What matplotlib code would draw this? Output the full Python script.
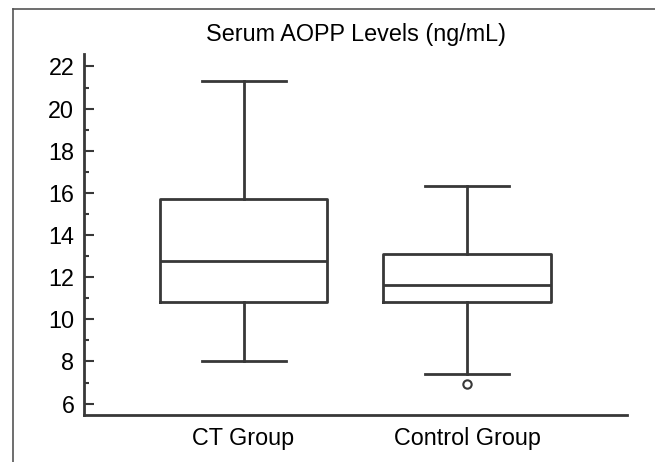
import matplotlib
matplotlib.use("Agg")
import matplotlib.pyplot as plt
from matplotlib.lines import Line2D
from matplotlib.ticker import MultipleLocator

# box statistics
groups = ["CT Group", "Control Group"]
whisker_low = [8.04, 7.41]
q1 = [10.82, 10.80]
median = [12.78, 11.62]
q3 = [15.70, 13.11]
whisker_high = [21.32, 16.34]
outliers = [[], [6.92]]

plt.rcParams["font.family"] = ["Liberation Sans", "DejaVu Sans"]
line_col = "#383838"

fig = plt.figure(figsize=(6.55, 4.62), dpi=100)
ax = fig.add_axes([84 / 655, 1 - 415 / 462, (627 - 84) / 655, (415 - 54) / 462])

stats = []
for i, g in enumerate(groups):
    stats.append({
        "label": g,
        "whislo": whisker_low[i],
        "q1": q1[i],
        "med": median[i],
        "q3": q3[i],
        "whishi": whisker_high[i],
        "fliers": outliers[i],
    })

lw = 2.0
ax.bxp(stats, positions=[1, 2], widths=0.75, capwidths=0.376,
       boxprops=dict(color=line_col, linewidth=lw),
       medianprops=dict(color=line_col, linewidth=lw),
       whiskerprops=dict(color=line_col, linewidth=lw),
       capprops=dict(color=line_col, linewidth=lw),
       flierprops=dict(marker="o", markersize=6, markerfacecolor="white",
                       markeredgecolor=line_col, markeredgewidth=1.5))

ax.set_xlim(0.286, 2.716)
ax.set_ylim(5.46, 22.59)
ax.yaxis.set_major_locator(MultipleLocator(2))
ax.yaxis.set_minor_locator(MultipleLocator(1))

for s in ["top", "right"]:
    ax.spines[s].set_visible(False)
for s in ["left", "bottom"]:
    ax.spines[s].set_color(line_col)
    ax.spines[s].set_linewidth(lw)

ax.tick_params(axis="y", which="major", direction="in", length=7.5, width=1.5,
               color=line_col, labelsize=16.8, pad=7)
ax.tick_params(axis="y", which="minor", direction="in", length=3.8, width=1.5,
               color=line_col)
ax.tick_params(axis="x", length=0, labelsize=16.8, pad=9)

ax.set_title("Serum AOPP Levels (ng/mL)", fontsize=16.8, pad=9)

# frame lines at top and left of the picture
fig.add_artist(Line2D([13 / 655, 1], [1 - 9 / 462, 1 - 9 / 462],
                      transform=fig.transFigure, color="#555555", linewidth=1.2))
fig.add_artist(Line2D([13 / 655, 13 / 655], [0, 1 - 9 / 462],
                      transform=fig.transFigure, color="#555555", linewidth=1.2))

fig.savefig("out.png", dpi=100)
